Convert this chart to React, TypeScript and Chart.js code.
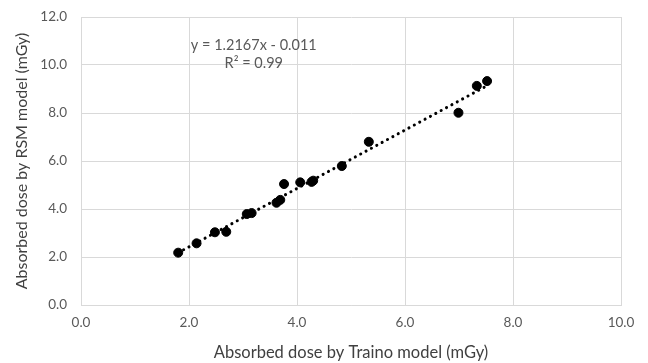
import React, { useEffect, useRef } from "react";
import { Chart, registerables } from "chart.js";

Chart.register(...registerables);

const traino = [1.80, 2.14, 2.48, 2.69, 3.07, 3.16, 3.62, 3.69, 3.76, 4.06, 4.27, 4.30, 4.83, 5.33, 6.99, 7.33, 7.52];
const rsm = [2.18, 2.57, 3.03, 3.05, 3.79, 3.83, 4.26, 4.38, 5.04, 5.11, 5.13, 5.18, 5.79, 6.80, 8.01, 9.13, 9.33];
const slope = 1.2167;
const intercept = -0.011;
const trendX = [1.80, 7.52];
const equationLabel = "y = 1.2167x - 0.011";
const r2Label = "R² = 0.99";
const xTitle = "Absorbed dose by Traino model (mGy)";
const yTitle = "Absorbed dose by RSM model (mGy)";

const FONT = "Lato, 'Open Sans', sans-serif";

export default function App() {
  const ref = useRef<HTMLCanvasElement>(null);
  useEffect(() => {
    document.body.style.margin = "0";
    const ctx = ref.current!;
    const annot = {
      id: "annot",
      afterDraw(chart: any) {
        const c = chart.ctx;
        const xs = chart.scales.x;
        const ys = chart.scales.y;
        c.save();
        c.fillStyle = "#595959";
        c.font = `14.5px ${FONT}`;
        c.textAlign = "center";
        c.textBaseline = "middle";
        c.fillText(equationLabel, xs.getPixelForValue(3.2), ys.getPixelForValue(10.83));
        c.fillText(r2Label, xs.getPixelForValue(3.2), ys.getPixelForValue(10.08));
        c.restore();
      },
    };
    const chart = new Chart(ctx, {
      type: "scatter",
      data: {
        datasets: [
          {
            label: "data",
            data: traino.map((x, i) => ({ x, y: rsm[i] })),
            backgroundColor: "#000000",
            borderColor: "#000000",
            pointRadius: 4.5,
            pointHoverRadius: 4.5,
            order: 1,
          },
          {
            label: "trend",
            type: "line",
            data: trendX.map((x) => ({ x, y: slope * x + intercept })),
            borderColor: "#000000",
            borderWidth: 3,
            borderDash: [0.1, 6],
            borderCapStyle: "round",
            pointRadius: 0,
            fill: false,
            order: 2,
          } as any,
        ],
      },
      options: {
        animation: false,
        responsive: false,
        maintainAspectRatio: false,
        layout: { padding: { top: 17, right: 27, left: 0, bottom: 0 } },
        plugins: { legend: { display: false }, tooltip: { enabled: false } },
        scales: {
          x: {
            type: "linear",
            min: 0,
            max: 10,
            ticks: {
              stepSize: 2,
              color: "#595959",
              font: { family: FONT, size: 13.5 },
              padding: 10,
              callback: (v: any) => Number(v).toFixed(1),
            },
            grid: { color: "#d9d9d9", lineWidth: 1, drawTicks: false },
            border: { color: "#d9d9d9" },
            title: {
              display: true,
              text: xTitle,
              color: "#404040",
              font: { family: FONT, size: 16.5 },
              padding: { top: 4, bottom: 0 },
            },
            afterFit: (s: any) => {
              s.height = 58;
            },
          },
          y: {
            type: "linear",
            min: 0,
            max: 12,
            ticks: {
              stepSize: 2,
              color: "#595959",
              font: { family: FONT, size: 13.5 },
              padding: 14,
              callback: (v: any) => Number(v).toFixed(1),
            },
            grid: { color: "#d9d9d9", lineWidth: 1, drawTicks: false },
            border: { color: "#d9d9d9" },
            title: {
              display: true,
              text: yTitle,
              color: "#404040",
              font: { family: FONT, size: 16 },
              padding: { top: 12, bottom: 4 },
            },
            afterFit: (s: any) => {
              s.width = 81;
              s.paddingTop = 0;
              s.paddingBottom = 0;
            },
          },
        },
      },
      plugins: [annot],
    });
    return () => chart.destroy();
  }, []);
  return (
    <div style={{ position: "absolute", left: 0, top: 0, width: 648, height: 363, background: "#fff" }}>
      <canvas ref={ref} width={648} height={363} />
    </div>
  );
}
